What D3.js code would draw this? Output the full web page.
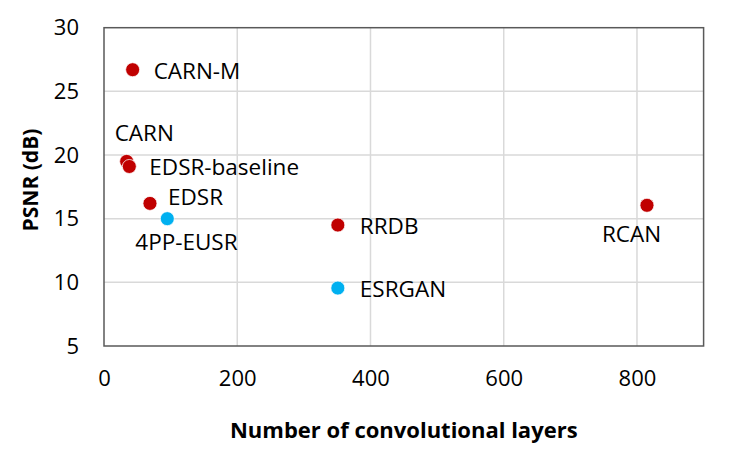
<!DOCTYPE html>
<html lang="en">
<head>
<meta charset="utf-8">
<title>PSNR vs layers</title>
<script src="https://cdn.jsdelivr.net/npm/d3@7"></script>
<style>
  body { margin: 0; background: #fff; }
  text { font-family: "Open Sans", sans-serif; fill: #000; }
</style>
</head>
<body>
<script>
// data
var models = ["CARN-M", "CARN", "EDSR-baseline", "EDSR", "4PP-EUSR", "RRDB", "ESRGAN", "RCAN"];
var layers = [43, 34, 38, 69, 95, 351, 351, 815];
var psnr = [26.7, 19.5, 19.1, 16.2, 15.0, 14.5, 9.55, 16.05];
var group = ["red", "red", "red", "red", "blue", "red", "blue", "red"];
var xTicks = [0, 200, 400, 600, 800];
var yTicks = [5, 10, 15, 20, 25, 30];

// label offsets relative to the dot (dx, dy to baseline)
var labelPos = [[21, 9], [-12, -20], [20, 9], [18, 2], [-32, 31], [22, 9], [22, 9], [-45, 37]];

var w = 731, h = 456;
var pLeft = 104, pRight = 703.6, pTop = 27.7, pBottom = 346;

var colors = { red: "#C00000", blue: "#00B0F0" };

var svg = d3.select("body").append("svg").attr("width", w).attr("height", h);

var x = d3.scaleLinear().domain([0, 900]).range([pLeft, pRight]);
var y = d3.scaleLinear().domain([5, 30]).range([pBottom, pTop]);

// gridlines
svg.append("g").selectAll("line").data(xTicks.filter(function(d){ return d > 0; }))
  .enter().append("line")
  .attr("x1", function(d){ return x(d); }).attr("x2", function(d){ return x(d); })
  .attr("y1", pTop).attr("y2", pBottom)
  .attr("stroke", "#d9d9d9").attr("stroke-width", 1.5);

svg.append("g").selectAll("line").data(yTicks.filter(function(d){ return d > 5 && d < 30; }))
  .enter().append("line")
  .attr("x1", pLeft).attr("x2", pRight)
  .attr("y1", function(d){ return y(d); }).attr("y2", function(d){ return y(d); })
  .attr("stroke", "#d9d9d9").attr("stroke-width", 1.5);

// frame
svg.append("rect")
  .attr("x", pLeft).attr("y", pTop)
  .attr("width", pRight - pLeft).attr("height", pBottom - pTop)
  .attr("fill", "none").attr("stroke", "#595959").attr("stroke-width", 1.5);

// axes (labels only)
var xAxis = svg.append("g").attr("transform", "translate(0," + pBottom + ")")
  .call(d3.axisBottom(x).tickValues(xTicks).tickSize(0).tickPadding(20));
var yAxis = svg.append("g").attr("transform", "translate(" + pLeft + ",0)")
  .call(d3.axisLeft(y).tickValues(yTicks).tickSize(0).tickPadding(25));
[xAxis, yAxis].forEach(function(a){
  a.select(".domain").remove();
  a.selectAll("text").style("font-size", "22px").attr("fill", "#000")
    .style("font-family", "'Open Sans', sans-serif");
});
xAxis.selectAll("text").attr("dy", "0.9em");

// axis titles
svg.append("text")
  .attr("x", (pLeft + pRight) / 2).attr("y", 438)
  .attr("text-anchor", "middle")
  .style("font-size", "22px").style("font-weight", "bold")
  .text("Number of convolutional layers");

svg.append("text")
  .attr("transform", "translate(38,180) rotate(-90)")
  .attr("text-anchor", "middle")
  .style("font-size", "21px").style("font-weight", "bold")
  .text("PSNR (dB)");

// points
svg.append("g").selectAll("circle").data(models)
  .enter().append("circle")
  .attr("cx", function(d, i){ return x(layers[i]); })
  .attr("cy", function(d, i){ return y(psnr[i]); })
  .attr("r", 7)
  .attr("fill", function(d, i){ return colors[group[i]]; })
  .attr("stroke", "#fff").attr("stroke-width", 0.75);

// labels
svg.append("g").selectAll("text").data(models)
  .enter().append("text")
  .attr("x", function(d, i){ return x(layers[i]) + labelPos[i][0]; })
  .attr("y", function(d, i){ return y(psnr[i]) + labelPos[i][1]; })
  .style("font-size", "22.5px")
  .text(function(d){ return d; });
</script>
</body>
</html>
